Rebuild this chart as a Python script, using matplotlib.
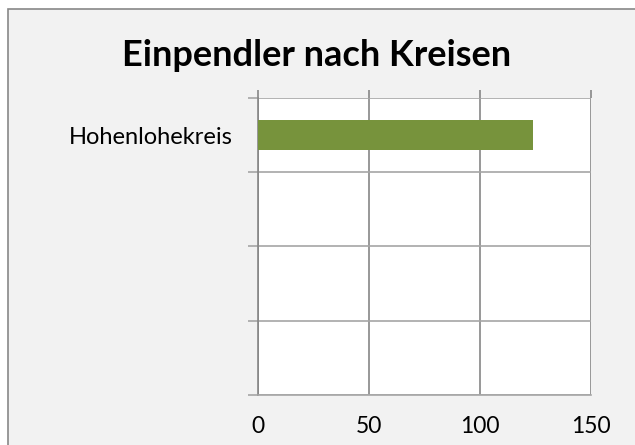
import matplotlib.pyplot as plt
from matplotlib.patches import Rectangle
import numpy as np

# data
categories = ["Hohenlohekreis", "", "", ""]
values = [124, 0, 0, 0]
x_ticks = [0, 50, 100, 150]

W, H = 635, 445
fig = plt.figure(figsize=(W / 100, H / 100), dpi=100, facecolor="white")
plt.rcParams["font.family"] = "Lato"

# outer chart area with grey border (right/bottom edges run off the image)
fig.patches.append(Rectangle((8 / W, -0.1), 1.2, 1.1 - 9 / H, transform=fig.transFigure,
                             facecolor="#f2f2f2", edgecolor="#888888", lw=1.2,
                             zorder=-10))

# plot area: left 258, right 591, top 98, bottom 395 (pixels)
ax = fig.add_axes([258 / W, 1 - 395 / H, (591 - 258) / W, (395 - 98) / H])
ax.set_facecolor("white")

y = np.arange(len(categories))
ax.barh(y, values, height=0.4, color="#77933c", zorder=3)
ax.set_xlim(0, 150)
ax.set_ylim(len(categories) - 0.5, -0.5)

ax.set_xticks(x_ticks)
ax.set_xticklabels([str(t) for t in x_ticks], fontsize=16.5)
ax.tick_params(axis="x", top=True, bottom=False, labeltop=False, labelbottom=True,
               length=6, width=1.2, color="#868686", pad=9)
ax.xaxis.grid(True, color="#868686", lw=1.2, zorder=1)

ax.set_yticks(y)
ax.set_yticklabels(categories, fontsize=17)
ax.set_yticks(np.arange(-0.5, len(categories), 1), minor=True)
ax.tick_params(axis="y", which="major", length=0, pad=18)
ax.tick_params(axis="y", which="minor", length=7, width=1.2, color="#a6a6a6")
ax.yaxis.grid(True, which="minor", color="#a6a6a6", lw=1.2, zorder=1)

for s in ["top", "right"]:
    ax.spines[s].set_visible(False)
ax.spines["left"].set_color("#868686")
ax.spines["left"].set_linewidth(1.2)
ax.spines["bottom"].set_color("#a6a6a6")
ax.spines["bottom"].set_linewidth(1.2)

fig.text(317 / W, 1 - 56 / H, "Einpendler nach Kreisen", ha="center", va="center",
         fontsize=26, fontweight="bold")

fig.savefig("out.png", dpi=100, facecolor=fig.get_facecolor())
